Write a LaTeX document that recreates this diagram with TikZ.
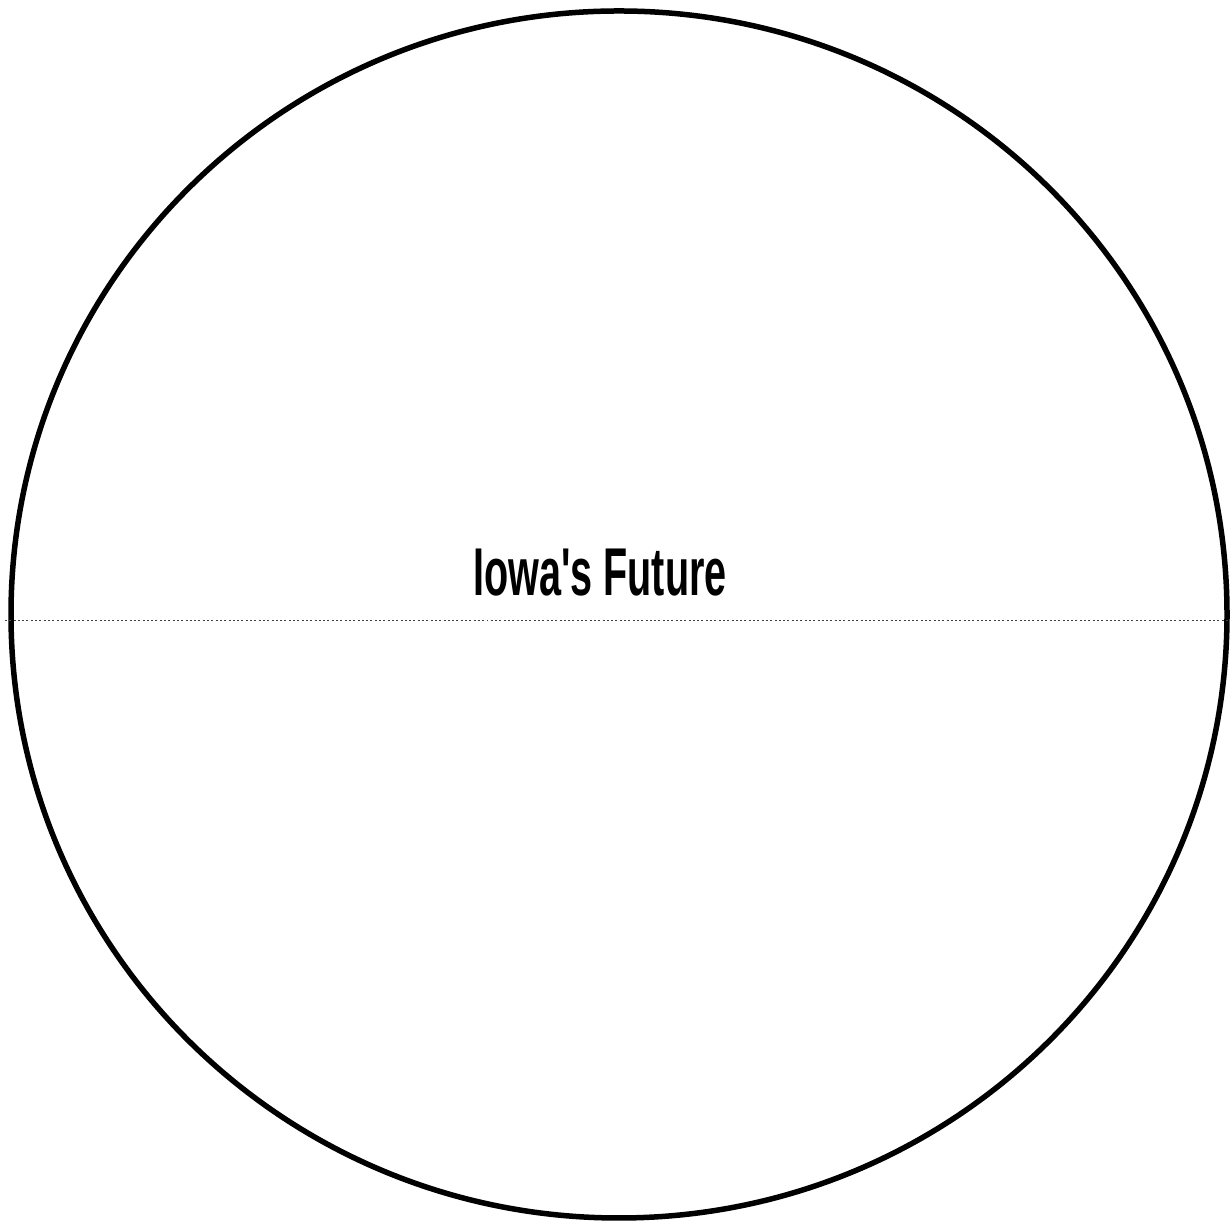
\documentclass[tikz,border=0pt]{standalone}
\usepackage{fontspec}
\setmainfont{Liberation Sans}
\usetikzlibrary{positioning}

\begin{document}
\begin{tikzpicture}[x=0.02cm, y=0.02cm]
\tikzstyle{rimStyle}=[line width=0.11cm, draw=black]
\tikzstyle{cutStyle}=[line width=0.02cm, draw=black!75, dash pattern=on 0.04cm off 0.046cm]
\tikzstyle{tStyle}=[inner sep=0pt, outer sep=0pt, font=\fontsize{38.5}{40}\selectfont\bfseries, xscale=0.585, anchor=base]

\useasboundingbox (0,0) rectangle (1230,1222);

\coordinate (c) at (619,607.5);
\draw[rimStyle] (c) ellipse [x radius=608, y radius=603.5];

\coordinate (w) at (5,601);
\coordinate (e) at (1230,601);
\draw[cutStyle] (w) -- (e);

\node[tStyle] (title) at (600,626) {Iowa\textquotesingle s Future};
\end{tikzpicture}
\end{document}
